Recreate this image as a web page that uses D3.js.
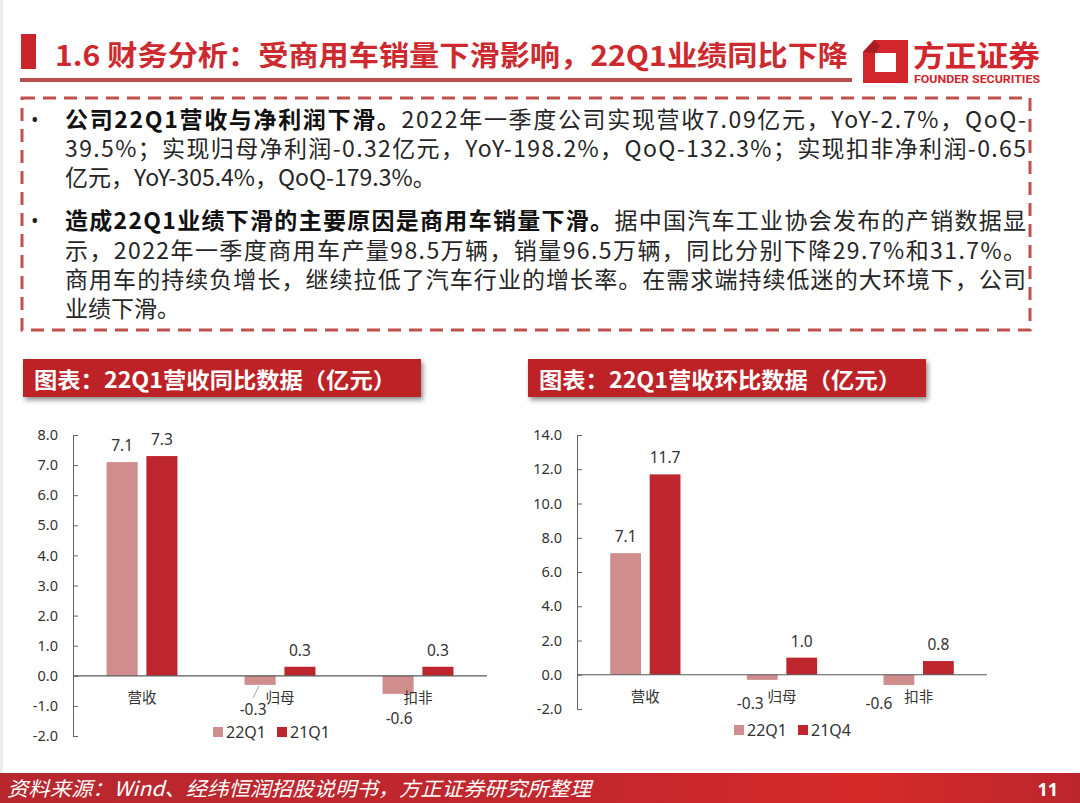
<!DOCTYPE html>
<html>
<head>
<meta charset="utf-8">
<script src="https://cdn.jsdelivr.net/npm/d3@7"></script>
<style>
  html, body { margin: 0; padding: 0; background: #fff; }
  svg { display: block; }
</style>
</head>
<body>
<svg id="page" width="1080" height="803"></svg>
<script>
// chart data
const categories = ["营收", "归母", "扣非"];
const yoySeries = ["22Q1", "21Q1"];
const yoy22Q1 = [7.1, -0.3, -0.6];
const yoy21Q1 = [7.3, 0.3, 0.3];
const yoyTicks = [-2, -1, 0, 1, 2, 3, 4, 5, 6, 7, 8];

const qoqSeries = ["22Q1", "21Q4"];
const qoq22Q1 = [7.1, -0.3, -0.6];
const qoq21Q4 = [11.7, 1.0, 0.8];
const qoqTicks = [-2, 0, 2, 4, 6, 8, 10, 12, 14];

// slide text
const pageTitle = "1.6 财务分析：受商用车销量下滑影响，22Q1业绩同比下降";
const para1 = [
  ["公司22Q1营收与净利润下滑。", "2022年一季度公司实现营收7.09亿元，YoY-2.7%，QoQ-", true],
  ["", "39.5%；实现归母净利润-0.32亿元，YoY-198.2%，QoQ-132.3%；实现扣非净利润-0.65", true],
  ["", "亿元，YoY-305.4%，QoQ-179.3%。", false]
];
const para2 = [
  ["造成22Q1业绩下滑的主要原因是商用车销量下滑。", "据中国汽车工业协会发布的产销数据显", true],
  ["", "示，2022年一季度商用车产量98.5万辆，销量96.5万辆，同比分别下降29.7%和31.7%。", true],
  ["", "商用车的持续负增长，继续拉低了汽车行业的增长率。在需求端持续低迷的大环境下，公司", true],
  ["", "业绩下滑。", false]
];
const chartTitles = ["图表：22Q1营收同比数据（亿元）", "图表：22Q1营收环比数据（亿元）"];
const sourceNote = "资料来源：Wind、经纬恒润招股说明书，方正证券研究所整理";

const RED = "#c9252b";
const LIGHT = "#cf8d8d";
const DARK = "#be262e";
const CJK = "'Noto Sans CJK SC', 'Noto Sans', sans-serif";
const NUM = "'Noto Sans', 'Noto Sans CJK SC', sans-serif";

const svg = d3.select("#page");
const defs = svg.append("defs");

const shadow = defs.append("filter").attr("id", "shadow")
  .attr("x", "-5%").attr("y", "-20%").attr("width", "115%").attr("height", "160%");
shadow.append("feDropShadow")
  .attr("dx", 2).attr("dy", 3).attr("stdDeviation", 2.5)
  .attr("flood-color", "#000").attr("flood-opacity", 0.45);

const grad = defs.append("linearGradient").attr("id", "footGrad");
grad.append("stop").attr("offset", "0%").attr("stop-color", "#b8272e");
grad.append("stop").attr("offset", "55%").attr("stop-color", "#c3272d");
grad.append("stop").attr("offset", "80%").attr("stop-color", "#d62a2a");
grad.append("stop").attr("offset", "100%").attr("stop-color", "#bb262c");

// faint left border
svg.append("rect").attr("x", 0).attr("y", 0).attr("width", 3).attr("height", 773)
  .attr("fill", "#ececec");

// header
svg.append("rect").attr("x", 21).attr("y", 34).attr("width", 15).attr("height", 35)
  .attr("fill", RED);
svg.append("text")
  .attr("x", 55).attr("y", 66)
  .attr("font-family", CJK).attr("font-size", 28).attr("font-weight", "bold")
  .attr("fill", "#cd2a30")
  .attr("textLength", 793).attr("lengthAdjust", "spacingAndGlyphs")
  .text(pageTitle);
svg.append("rect").attr("x", 20).attr("y", 78).attr("width", 832).attr("height", 4)
  .attr("fill", "#bc4f4f");

// logo
const logo = svg.append("g");
logo.append("path")
  .attr("d", "M874,40 L908,40 L908,83 L863,83 L863,52 Z M875,53 L875,72 L896,72 L896,53 Z")
  .attr("fill-rule", "evenodd")
  .attr("fill", "#d2262c");
logo.append("path")
  .attr("d", "M863,52 L874,40 L880,46 L875,53 Z")
  .attr("fill", "#a81c22");
logo.append("text")
  .attr("x", 913).attr("y", 67)
  .attr("font-family", CJK).attr("font-size", 29).attr("font-weight", "bold")
  .attr("fill", "#d2262c")
  .attr("textLength", 127).attr("lengthAdjust", "spacingAndGlyphs")
  .text("方正证券");
logo.append("text")
  .attr("x", 914).attr("y", 83)
  .attr("font-family", "'Roboto', 'Noto Sans', sans-serif").attr("font-size", 10.5).attr("font-weight", "bold")
  .attr("fill", "#d2262c")
  .attr("textLength", 126).attr("lengthAdjust", "spacingAndGlyphs")
  .text("FOUNDER SECURITIES");

// dashed text box
svg.append("rect")
  .attr("x", 22).attr("y", 98).attr("width", 1008).attr("height", 232)
  .attr("fill", "none")
  .attr("stroke", "#c0504d").attr("stroke-width", 3)
  .attr("stroke-dasharray", "13,8");

function writeParagraph(lines, baselines) {
  svg.append("text")
    .attr("x", 31).attr("y", baselines[0] - 1)
    .attr("font-family", NUM).attr("font-size", 20).attr("fill", "#222")
    .text("•");
  lines.forEach((ln, i) => {
    const t = svg.append("text")
      .attr("x", 65).attr("y", baselines[i])
      .attr("font-family", CJK).attr("font-size", 23).attr("fill", "#262626");
    if (ln[2]) t.attr("textLength", 961).attr("lengthAdjust", "spacing");
    if (ln[0]) t.append("tspan").attr("font-weight", "bold").attr("fill", "#111").text(ln[0]);
    t.append("tspan").text(ln[1]);
  });
}
writeParagraph(para1, [128, 157, 186]);
writeParagraph(para2, [229, 259, 288, 317]);

// chart title boxes
[[23, chartTitles[0]], [528, chartTitles[1]]].forEach(([x, label]) => {
  svg.append("rect")
    .attr("x", x).attr("y", 359).attr("width", 398).attr("height", 38)
    .attr("fill", "#bd2025")
    .attr("filter", "url(#shadow)");
  svg.append("text")
    .attr("x", x + 11).attr("y", 388)
    .attr("font-family", CJK).attr("font-size", 22).attr("font-weight", "bold")
    .attr("fill", "#fff")
    .attr("textLength", 362).attr("lengthAdjust", "spacingAndGlyphs")
    .text(label);
});

// plain hyphen minus, one decimal, like the original labels
const fmt = v => v.toFixed(1);

// grouped bar chart
function drawChart(o) {
  const g = svg.append("g");
  const y = d3.scaleLinear().domain(o.domain).range([o.bottom, o.top]);
  const x0 = d3.scaleBand().domain(categories).range([o.left, o.right])
    .paddingInner(0.486).paddingOuter(0.243);
  const x1 = d3.scaleBand().domain(o.series).range([0, x0.bandwidth()])
    .paddingInner(0.22);
  const color = d3.scaleOrdinal().domain(o.series).range([LIGHT, DARK]);

  const rows = [];
  categories.forEach((c, i) => {
    o.series.forEach((s, j) => rows.push({ cat: c, idx: i, s, v: o.values[j][i] }));
  });

  // y axis with inward ticks
  const yAxis = g.append("g")
    .attr("transform", `translate(${o.left},0)`)
    .call(d3.axisLeft(y).tickValues(o.ticks).tickSizeInner(-5).tickSizeOuter(0)
      .tickFormat(fmt).tickPadding(15));
  yAxis.select(".domain").attr("stroke", "#666");
  yAxis.selectAll(".tick line").attr("stroke", "#666");
  yAxis.selectAll(".tick text")
    .attr("font-family", NUM).attr("font-size", 14.5).attr("fill", "#333");

  g.selectAll("rect.bar").data(rows).join("rect")
    .attr("class", "bar")
    .attr("x", d => x0(d.cat) + x1(d.s))
    .attr("width", x1.bandwidth())
    .attr("y", d => y(Math.max(0, d.v)))
    .attr("height", d => Math.abs(y(d.v) - y(0)))
    .attr("fill", d => color(d.s));

  // zero line
  g.append("line")
    .attr("x1", o.left).attr("x2", o.right)
    .attr("y1", y(0)).attr("y2", y(0))
    .attr("stroke", "#595959").attr("stroke-width", 1.2);

  // value labels
  g.selectAll("text.val").data(rows).join("text")
    .attr("class", "val")
    .attr("text-anchor", "middle")
    .attr("font-family", NUM).attr("font-size", 15.5).attr("fill", "#333")
    .attr("x", d => x0(d.cat) + x1(d.s) + x1.bandwidth() / 2 + (d.v < 0 ? o.negDx[d.idx] : 0))
    .attr("y", d => d.v >= 0 ? y(d.v) - 11 : o.negY(y, d.v))
    .text(d => fmt(d.v));

  if (o.leader) {
    const d = rows.find(r => r.idx === 1 && r.v < 0);
    const cx = x0(d.cat) + x1(d.s) + x1.bandwidth() / 2;
    g.append("line")
      .attr("x1", cx + o.negDx[1]).attr("y1", o.negY(y, d.v) - 17)
      .attr("x2", cx - 1).attr("y2", y(d.v) + 1)
      .attr("stroke", "#888").attr("stroke-width", 0.8);
  }

  // category labels
  g.selectAll("text.cat").data(categories).join("text")
    .attr("class", "cat")
    .attr("text-anchor", "middle")
    .attr("font-family", CJK).attr("font-size", 14.5).attr("fill", "#333")
    .attr("x", d => x0(d) + x0.bandwidth() / 2)
    .attr("y", y(0) + 27)
    .text(d => d);

  // legend
  o.series.forEach((s, j) => {
    const lx = o.legendX + j * 64;
    g.append("rect")
      .attr("x", lx).attr("y", o.legendY - 5).attr("width", 10).attr("height", 10)
      .attr("fill", color(s));
    g.append("text")
      .attr("x", lx + 13).attr("y", o.legendY + 6)
      .attr("font-family", NUM).attr("font-size", 16).attr("fill", "#333")
      .text(s);
  });
}

drawChart({
  left: 73, right: 487, top: 435, bottom: 736,
  domain: [-2, 8], ticks: yoyTicks,
  series: yoySeries, values: [yoy22Q1, yoy21Q1],
  negDx: [0, -7, 1],
  negY: (y, v) => y(v) + 30,
  leader: true,
  legendX: 213, legendY: 732
});

drawChart({
  left: 577, right: 987, top: 435, bottom: 709,
  domain: [-2, 14], ticks: qoqTicks,
  series: qoqSeries, values: [qoq22Q1, qoq21Q4],
  negDx: [0, -12, -20],
  negY: (y, v) => y(0) + 34,
  leader: false,
  legendX: 734, legendY: 730
});

// footer
svg.append("rect").attr("x", 0).attr("y", 773).attr("width", 1080).attr("height", 30)
  .attr("fill", "url(#footGrad)");
svg.append("text")
  .attr("x", 7).attr("y", 796)
  .attr("font-family", CJK).attr("font-size", 20).attr("font-style", "italic")
  .attr("fill", "#fff")
  .attr("textLength", 584).attr("lengthAdjust", "spacingAndGlyphs")
  .text(sourceNote);
svg.append("text")
  .attr("x", 1058).attr("y", 796)
  .attr("text-anchor", "end")
  .attr("font-family", NUM).attr("font-size", 18).attr("font-weight", "bold")
  .attr("fill", "#fff")
  .text("11");
</script>
</body>
</html>
